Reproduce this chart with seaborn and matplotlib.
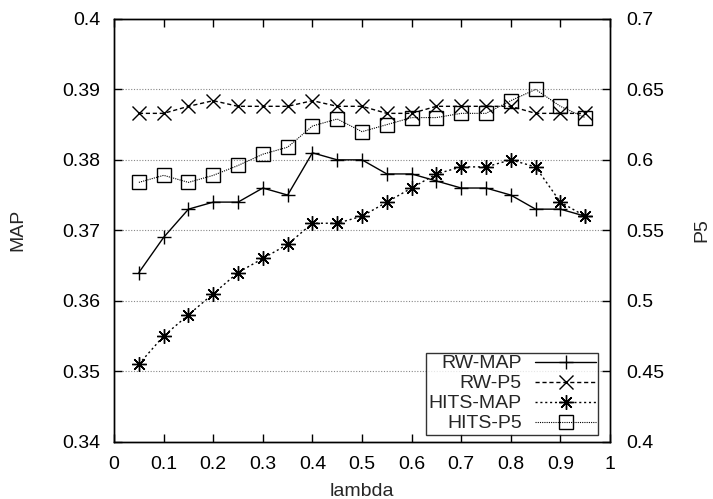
import matplotlib
matplotlib.use("Agg")
import matplotlib.pyplot as plt
import seaborn as sns
import pandas as pd

lam = [0.05, 0.10, 0.15, 0.20, 0.25, 0.30, 0.35, 0.40, 0.45, 0.50,
       0.55, 0.60, 0.65, 0.70, 0.75, 0.80, 0.85, 0.90, 0.95]

rw_map = [0.364, 0.369, 0.373, 0.374, 0.374, 0.376, 0.375, 0.381, 0.380, 0.380,
          0.378, 0.378, 0.377, 0.376, 0.376, 0.375, 0.373, 0.373, 0.372]
rw_p5 = [0.633, 0.633, 0.638, 0.642, 0.638, 0.638, 0.638, 0.642, 0.638, 0.638,
         0.633, 0.633, 0.638, 0.638, 0.638, 0.638, 0.633, 0.633, 0.633]
hits_map = [0.351, 0.355, 0.358, 0.361, 0.364, 0.366, 0.368, 0.371, 0.371, 0.372,
            0.374, 0.376, 0.378, 0.379, 0.379, 0.380, 0.379, 0.374, 0.372]
hits_p5 = [0.584, 0.589, 0.584, 0.589, 0.596, 0.604, 0.609, 0.624, 0.629, 0.620,
           0.625, 0.630, 0.630, 0.633, 0.633, 0.642, 0.650, 0.638, 0.630]

map_ticks = [0.34, 0.35, 0.36, 0.37, 0.38, 0.39, 0.40]
map_labels = ["0.34", "0.35", "0.36", "0.37", "0.38", "0.39", "0.4"]
p5_ticks = [0.40, 0.45, 0.50, 0.55, 0.60, 0.65, 0.70]
p5_labels = ["0.4", "0.45", "0.5", "0.55", "0.6", "0.65", "0.7"]
x_ticks = [0, 0.1, 0.2, 0.3, 0.4, 0.5, 0.6, 0.7, 0.8, 0.9, 1.0]
x_labels = ["0", "0.1", "0.2", "0.3", "0.4", "0.5", "0.6", "0.7", "0.8", "0.9", "1"]

sns.set_style("ticks")
plt.rcParams["font.family"] = ["Liberation Sans", "DejaVu Sans"]
FS = 14

df = pd.DataFrame({"lambda": lam, "RW-MAP": rw_map, "RW-P5": rw_p5,
                   "HITS-MAP": hits_map, "HITS-P5": hits_p5})

fig = plt.figure(figsize=(7.13, 4.99), dpi=100)
ax = fig.add_axes([0.16, 0.115, 0.6955, 0.847])
ax2 = ax.twinx()

asterisk = (8, 2, 0)
common = dict(color="black", markeredgecolor="black", markeredgewidth=1.0)

sns.lineplot(data=df, x="lambda", y="RW-MAP", ax=ax, marker="+",
             markersize=10, linewidth=1.0, linestyle="-", label="RW-MAP",
             legend=False, **common)
sns.lineplot(data=df, x="lambda", y="RW-P5", ax=ax2, marker="x",
             markersize=9.5, linewidth=1.0, linestyle=(0, (3, 2)),
             label="RW-P5", legend=False, **common)
sns.lineplot(data=df, x="lambda", y="HITS-MAP", ax=ax, marker=asterisk,
             markersize=10.5, linewidth=1.0, linestyle=(0, (1.5, 2)),
             label="HITS-MAP", legend=False, **common)
sns.lineplot(data=df, x="lambda", y="HITS-P5", ax=ax2, marker="s",
             markerfacecolor="none", markersize=9.5, linewidth=0.8,
             linestyle=(0, (1, 1)), label="HITS-P5", legend=False, **common)

ax.set_xlim(0, 1)
ax.set_ylim(0.34, 0.40)
ax2.set_ylim(0.40, 0.70)

ax.set_xticks(x_ticks)
ax.set_xticklabels(x_labels, fontsize=FS)
ax.set_yticks(map_ticks)
ax.set_yticklabels(map_labels, fontsize=FS)
ax2.set_yticks(p5_ticks)
ax2.set_yticklabels(p5_labels, fontsize=FS)

for a in (ax, ax2):
    for s in a.spines.values():
        s.set_visible(True)
        s.set_color("black")
        s.set_linewidth(1.0)

ax.tick_params(axis="x", direction="in", length=6, width=1, top=True,
               bottom=True, pad=10, colors="black")
ax.tick_params(axis="y", direction="in", length=6, width=1, left=True,
               right=False, pad=10, colors="black")
ax2.tick_params(axis="y", direction="in", length=6, width=1, right=True,
                pad=12, colors="black")

# horizontal dotted grid at the inner MAP ticks
for yv in map_ticks[1:-1]:
    ax.axhline(yv, color="#888888", linestyle=(0, (1, 1.5)), linewidth=0.8,
               zorder=0)

ax.set_xlabel("lambda", fontsize=FS)
ax.xaxis.set_label_coords(0.5, -0.098)
ax.set_ylabel("MAP", fontsize=FS)
ax.yaxis.set_label_coords(-0.177, 0.5)
ax2.set_ylabel("P5", fontsize=FS)
ax2.yaxis.set_label_coords(1.168, 0.5)

h1, l1 = ax.get_legend_handles_labels()
h2, l2 = ax2.get_legend_handles_labels()
order = {"RW-MAP": 0, "RW-P5": 1, "HITS-MAP": 2, "HITS-P5": 3}
pairs = sorted(zip(h1 + h2, l1 + l2), key=lambda p: order[p[1]])
leg = ax2.legend([p[0] for p in pairs], [p[1] for p in pairs],
                 loc="lower right", bbox_to_anchor=(0.976, 0.0165),
                 markerfirst=False, fontsize=FS, frameon=True, fancybox=False,
                 handlelength=3.1, handletextpad=0.7, labelspacing=0.12,
                 borderpad=0.12, borderaxespad=0.0)
leg.get_frame().set_edgecolor("black")
leg.get_frame().set_linewidth(1.0)
leg._legend_box.align = "right"

fig.savefig("out.png", dpi=100)
